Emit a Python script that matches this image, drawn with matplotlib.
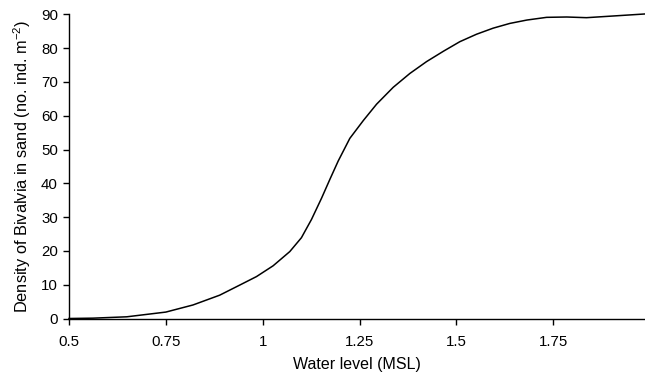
import matplotlib
matplotlib.use("Agg")
import matplotlib.pyplot as plt

plt.rcParams['font.family'] = ['Liberation Sans', 'DejaVu Sans']
plt.rcParams['mathtext.fontset'] = 'custom'
plt.rcParams['mathtext.rm'] = 'Liberation Sans'
plt.rcParams['mathtext.it'] = 'Liberation Sans'

water_level = [0.5, 0.562, 0.649, 0.75, 0.82, 0.889, 0.941, 0.984, 1.027, 1.07,
               1.1, 1.126, 1.152, 1.174, 1.195, 1.225, 1.26, 1.294, 1.337, 1.38,
               1.423, 1.467, 1.509, 1.552, 1.595, 1.638, 1.682, 1.733, 1.785, 1.836,
               1.905, 1.987]
density = [0.0, 0.1, 0.5, 1.9, 4.0, 6.9, 9.9, 12.4, 15.6, 19.8,
           23.9, 29.3, 35.6, 41.3, 46.6, 53.3, 58.6, 63.4, 68.4, 72.5,
           76.0, 79.1, 81.9, 84.1, 85.9, 87.3, 88.3, 89.1, 89.2, 89.0,
           89.5, 90.1]

x_ticks = [0.5, 0.75, 1.0, 1.25, 1.5, 1.75]
x_tick_labels = ['0.5', '0.75', '1', '1.25', '1.5', '1.75']
y_ticks = [0, 10, 20, 30, 40, 50, 60, 70, 80, 90]

fig = plt.figure(figsize=(6.45, 3.83), dpi=100)
ax = fig.add_axes([69 / 645, 1 - 318.5 / 383, 1 - 69 / 645, (318.5 - 14.3) / 383])

ax.plot(water_level, density, color='black', linewidth=1.1, clip_on=False,
        solid_joinstyle='round')

ax.set_xlim(0.5, 1.987)
ax.set_ylim(0, 90)
ax.set_xticks(x_ticks)
ax.set_xticklabels(x_tick_labels)
ax.set_yticks(y_ticks)

for s in ['top', 'right']:
    ax.spines[s].set_visible(False)
for s in ['left', 'bottom']:
    ax.spines[s].set_linewidth(1.0)
    ax.spines[s].set_color('black')

ax.tick_params(axis='both', direction='out', length=4, width=1.0, labelsize=10.8, colors='black')
ax.tick_params(axis='x', pad=8)
ax.tick_params(axis='y', pad=4)

ax.set_xlabel('Water level (MSL)', fontsize=11.5, labelpad=6)
ax.set_ylabel('Density of Bivalvia in sand (no. ind. m$^{-2}$)', fontsize=11.8, labelpad=6)

fig.savefig('out.png', dpi=100)
